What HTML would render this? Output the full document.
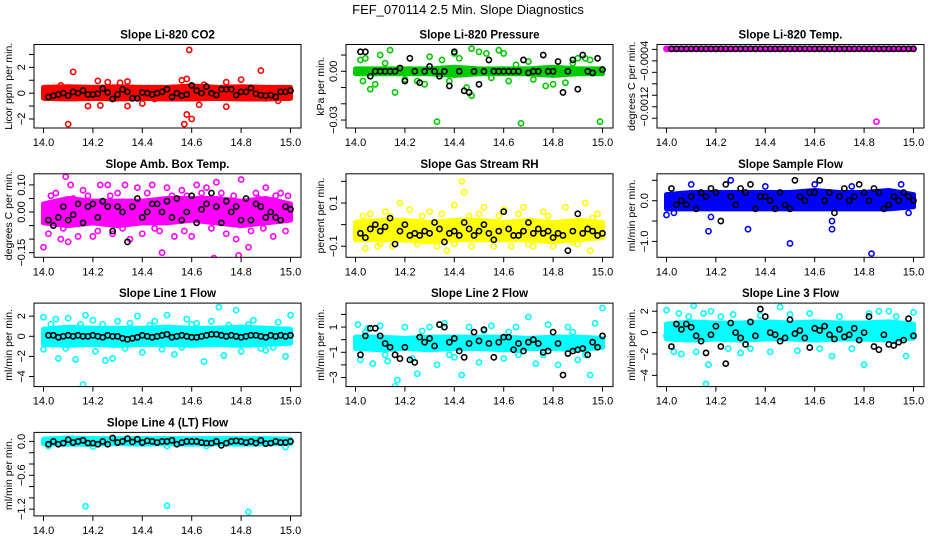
<!DOCTYPE html>
<html><head><meta charset="utf-8">
<style>
html,body{margin:0;padding:0;background:#fff;}
svg{display:block;font-family:"Liberation Sans",Arial,sans-serif;}
</style></head>
<body>
<svg id="chart" width="936" height="540" viewBox="0 0 936 540" xmlns="http://www.w3.org/2000/svg">
<text x="468" y="14" font-size="13" text-anchor="middle">FEF_070114  2.5 Min. Slope Diagnostics</text>
</svg>
<script>
// ---- data ----
const xTicks = [14.0,14.2,14.4,14.6,14.8,15.0];
const bandX = [14.0,14.1,14.2,14.3,14.4,14.5,14.6,14.7,14.8,14.9,15.0];

const co2BandHi = [0.45,0.5,0.45,0.5,0.45,0.45,0.55,0.45,0.5,0.45,0.45];
const co2BandLo = [-0.4,-0.45,-0.4,-0.45,-0.4,-0.45,-0.45,-0.4,-0.45,-0.45,-0.4];
const co2Out = [[14.1,-2.4],[14.12,1.65],[14.18,-1],[14.23,-0.95],[14.22,0.95],[14.26,0.85],[14.31,0.8],[14.34,0.9],[14.34,-1],[14.4,-0.8],[14.57,-2.4],[14.56,1],[14.58,1.1],[14.58,-1.65],[14.59,3.35],[14.6,-2.0],[14.63,-0.9],[14.74,0.85],[14.74,-1.05],[14.8,1.05],[14.88,1.75],[14.07,0.6],[14.65,0.65],[14.95,-0.6],[14.45,-0.45],[14.9,-0.4]];
const co2Black = [-0.3,-0.2,-0.1,0.0,-0.2,0.1,0.0,0.2,-0.1,-0.1,-0.05,0.35,0.05,-0.45,-0.1,0.3,0.1,-0.4,-0.4,0.05,0.0,-0.1,0.0,0.1,0.3,-0.3,0.0,-0.2,-0.1,0.6,0.2,0.0,0.5,0.0,-0.15,0.3,0.3,0.3,-0.15,0.1,0.1,0.4,-0.05,-0.15,-0.2,-0.15,-0.3,0.1,0.1,0.2];

const presBandHi = [0.0015,0.0015,0.0015,0.0015,0.0025,0.0015,0.0015,0.0015,0.0025,0.0015,0.0015];
const presBandLo = [-0.0015,-0.0015,-0.0015,-0.0015,-0.0025,-0.0015,-0.0015,-0.0015,-0.0025,-0.0015,-0.0015];
const presOut = [[14.33,-0.031],[14.67,-0.032],[14.99,-0.031],[14.47,0.014],[14.14,0.013],[14.58,0.013],[14.02,0.007],[14.03,-0.006],[14.06,-0.011],[14.16,-0.013],[14.1,0.01],[14.3,0.009],[14.4,0.011],[14.44,-0.012],[14.47,-0.015],[14.5,0.012],[14.53,0.011],[14.6,0.011],[14.7,0.006],[14.77,-0.009],[14.8,-0.008],[14.85,-0.007],[14.9,0.008],[14.93,0.008],[14.2,-0.005],[14.25,-0.006],[14.35,0.007],[14.38,-0.006],[14.62,-0.006],[14.95,0.007],[14.08,-0.008],[14.12,0.005],[14.28,-0.008],[14.42,0.008],[14.55,-0.004],[14.65,0.004],[14.72,-0.005],[14.88,0.005],[14.04,0.008],[14.45,-0.01]];
const presBlack = [0.012,0.012,-0.003,0,0,0,0,0,0.002,-0.006,0.008,0,-0.007,0,0.003,0,-0.003,0,-0.009,0.012,0,-0.012,-0.013,0,-0.008,0,0.007,0,0,0,0,0,0,0.007,-0.001,0,0,0.01,0,0,0.006,-0.013,0,0.007,-0.011,0.01,0,-0.001,0.008,0.001];

const tempBandHi = [-0.00018,-0.00018,-0.00018,-0.00018,-0.00018,-0.00018,-0.00018,-0.00018,-0.00018,-0.00018,-0.00018];
const tempBandLo = [-0.0002,-0.0002,-0.0002,-0.0002,-0.0002,-0.0002,-0.0002,-0.0002,-0.0002,-0.0002,-0.0002];
const tempOut = [[14.85,-0.00146],[14.0,-0.00019]];
const tempBlack = [-0.00019,-0.00019,-0.00019,-0.00019,-0.00019,-0.00019,-0.00019,-0.00019,-0.00019,-0.00019,-0.00019,-0.00019,-0.00019,-0.00019,-0.00019,-0.00019,-0.00019,-0.00019,-0.00019,-0.00019,-0.00019,-0.00019,-0.00019,-0.00019,-0.00019,-0.00019,-0.00019,-0.00019,-0.00019,-0.00019,-0.00019,-0.00019,-0.00019,-0.00019,-0.00019,-0.00019,-0.00019,-0.00019,-0.00019,-0.00019,-0.00019,-0.00019,-0.00019,-0.00019,-0.00019,-0.00019,-0.00019,-0.00019,-0.00019,-0.00019];

const ambBandHi = [0.03,0.05,0.04,0.04,0.04,0.05,0.05,0.05,0.04,0.05,0.03];
const ambBandLo = [-0.04,-0.05,-0.04,-0.05,-0.04,-0.04,-0.03,-0.04,-0.05,-0.04,-0.03];
const ambOut = [[14.0,-0.13],[14.02,-0.08],[14.05,0.07],[14.07,-0.1],[14.09,0.13],[14.1,-0.11],[14.11,0.1],[14.14,-0.09],[14.16,0.08],[14.2,-0.09],[14.23,0.1],[14.26,0.1],[14.28,-0.08],[14.3,0.07],[14.33,0.1],[14.35,-0.1],[14.38,0.09],[14.4,-0.08],[14.44,0.1],[14.48,-0.15],[14.5,0.09],[14.53,-0.09],[14.56,0.08],[14.6,-0.09],[14.62,0.1],[14.66,0.09],[14.69,-0.17],[14.7,0.11],[14.74,-0.08],[14.78,-0.1],[14.79,-0.16],[14.8,0.12],[14.83,-0.13],[14.86,0.07],[14.9,0.09],[14.93,-0.09],[14.96,0.07],[14.98,-0.07],[14.12,0.05],[14.45,-0.06],[14.58,0.06],[14.87,0.05],[14.03,0.06],[14.08,-0.06],[14.18,0.06],[14.22,-0.07],[14.27,0.06],[14.32,-0.06],[14.42,0.07],[14.47,-0.07],[14.52,0.06],[14.57,-0.07],[14.64,0.07],[14.68,-0.06],[14.72,0.07],[14.77,0.06],[14.84,-0.07],[14.89,-0.06],[14.94,0.06],[14.99,0.06]];
const ambBlack = [-0.03,-0.05,-0.02,0.02,-0.03,-0.01,0.03,-0.04,0.02,0.03,-0.02,0.04,0.02,-0.07,0.02,0.0,-0.11,0.02,0.05,-0.02,0.0,0.03,0.03,0.0,0.04,-0.02,0.05,-0.03,0.0,0.06,-0.04,0.01,0.03,0.07,0.02,-0.04,0.04,0.0,0.02,-0.03,0.05,-0.03,0.03,0.02,-0.02,0.0,-0.02,-0.03,0.02,0.01];

const rhBandHi = [0.01,0.02,0.02,0.01,0.02,0.02,0.01,0.02,0.01,0.02,0.01];
const rhBandLo = [-0.07,-0.07,-0.07,-0.08,-0.07,-0.07,-0.07,-0.07,-0.08,-0.07,-0.06];
const rhOut = [[14.01,0.01],[14.04,-0.11],[14.06,0.05],[14.09,-0.1],[14.12,0.06],[14.15,-0.1],[14.18,0.1],[14.22,0.07],[14.25,-0.09],[14.3,0.06],[14.33,-0.1],[14.37,-0.12],[14.4,0.09],[14.43,0.2],[14.44,0.15],[14.47,-0.1],[14.52,0.08],[14.56,-0.1],[14.6,0.07],[14.63,-0.1],[14.68,0.08],[14.72,-0.1],[14.76,0.06],[14.8,-0.1],[14.85,0.08],[14.9,-0.09],[14.93,0.1],[14.95,-0.12],[14.98,0.05],[14.2,-0.07],[14.5,0.05],[14.88,-0.08],[14.03,0.04],[14.14,0.04],[14.27,0.04],[14.35,0.05],[14.46,0.04],[14.58,0.04],[14.66,0.05],[14.78,0.04],[14.96,0.03],[14.1,-0.09],[14.4,-0.09],[14.7,-0.09]];
const rhBlack = [-0.04,-0.06,-0.02,0.0,-0.03,-0.01,0.03,-0.09,-0.03,0.0,-0.05,-0.04,-0.05,-0.03,-0.04,0.01,-0.02,-0.08,-0.04,-0.03,-0.05,0.01,-0.02,-0.05,-0.03,0.0,-0.04,-0.07,-0.03,0.06,-0.02,-0.05,-0.05,-0.03,0.01,-0.04,-0.02,-0.04,-0.03,-0.06,-0.04,-0.05,-0.12,-0.03,0.05,-0.04,-0.02,-0.03,-0.05,-0.04];

const sfBandHi = [0.15,0.2,0.2,0.2,0.2,0.2,0.25,0.2,0.2,0.25,0.15];
const sfBandLo = [-0.2,-0.2,-0.2,-0.2,-0.2,-0.2,-0.2,-0.2,-0.2,-0.2,-0.15];
const sfOut = [[14.0,-0.35],[14.03,-0.3],[14.1,0.4],[14.17,-0.75],[14.18,-0.4],[14.26,0.5],[14.33,-0.7],[14.5,-1.05],[14.67,-0.5],[14.67,-0.7],[14.83,-1.3],[14.95,0.4],[14.98,-0.3],[14.4,0.35],[14.6,0.4],[14.75,0.35]];
const sfBlack = [0.3,-0.1,0.0,-0.1,0.1,-0.2,0.2,0.1,0.3,0.2,-0.5,0.4,0.1,-0.1,0.3,0.2,0.4,-0.2,0.1,0.1,0.0,-0.2,0.2,-0.1,-0.2,0.5,0.1,0.0,0.2,0.2,0.5,0.0,0.2,-0.3,0.1,0.3,0.0,0.1,0.4,0.2,0.0,0.3,0.2,-0.2,-0.1,0.1,0.0,0.2,0.1,0.0];

const l1BandHi = [0.7,0.9,0.8,0.8,0.8,0.9,0.8,0.8,0.9,0.8,0.7];
const l1BandLo = [-0.8,-0.9,-0.8,-0.9,-0.8,-0.8,-0.9,-0.8,-0.9,-0.8,-0.7];
const l1Out = [[14.0,1.9],[14.0,-1.3],[14.05,1.7],[14.06,-2.2],[14.1,1.8],[14.13,-2.3],[14.16,-4.8],[14.17,2.1],[14.2,1.6],[14.21,-1.5],[14.25,-2.4],[14.28,-2.2],[14.3,1.5],[14.35,1.3],[14.38,2.0],[14.4,-1.6],[14.45,1.5],[14.5,2.1],[14.53,-1.8],[14.58,1.7],[14.65,-2.5],[14.68,1.5],[14.71,2.9],[14.73,-1.9],[14.78,2.6],[14.8,-1.5],[14.85,1.6],[14.9,-1.4],[14.95,1.4],[14.98,-2.0],[15.0,2.1],[14.62,1.3],[14.88,-1.2],[14.03,1.2],[14.09,-1.2],[14.15,1.2],[14.24,1.2],[14.33,-1.2],[14.43,1.1],[14.48,-1.3],[14.56,-1.1],[14.6,1.2],[14.75,1.1],[14.83,1.2],[14.93,-1.1]];
const l1Black = [0.1,0.1,-0.1,0.0,0.1,0.0,0.1,0.0,0.0,0.1,0.0,-0.1,0.1,0.0,0.0,-0.2,-0.3,-0.2,-0.1,0.1,0.0,-0.1,0.0,0.1,0.2,-0.1,0.0,0.1,0.0,-0.1,-0.1,0.0,0.1,0.2,0.2,0.1,0.0,0.1,0.0,-0.1,0.0,0.1,0.1,0.0,-0.1,0.1,0.0,0.1,0.0,0.1];

const l2BandHi = [0.2,0.2,0.1,0.2,0.2,0.2,0.2,0.1,0.2,0.2,0.1];
const l2BandLo = [-0.7,-0.8,-0.7,-0.8,-0.7,-0.7,-0.8,-0.7,-0.7,-0.8,-0.6];
const l2Out = [[14.01,1.2],[14.02,-1.6],[14.05,0.9],[14.07,-1.9],[14.1,1.1],[14.13,-1.7],[14.16,-3.7],[14.17,-3.2],[14.2,1.0],[14.23,-1.5],[14.25,-2.7],[14.3,1.0],[14.33,-2.0],[14.36,1.3],[14.4,-1.4],[14.43,-2.8],[14.46,1.0],[14.5,-1.8],[14.55,1.1],[14.6,-1.5],[14.65,1.0],[14.7,1.8],[14.73,-1.9],[14.78,1.2],[14.82,-2.0],[14.86,1.0],[14.9,-1.6],[14.95,-2.8],[14.97,1.3],[15.0,2.5],[14.66,-1.2],[14.04,0.6],[14.12,-1.2],[14.27,0.7],[14.38,-1.2],[14.52,0.7],[14.62,0.6],[14.76,-1.2],[14.88,0.6],[14.93,-1.2]];
const l2Black = [-1.2,0.3,0.9,0.9,0.3,-0.3,-0.6,-1.2,-1.5,-0.6,-1.6,-1.8,0.2,-0.2,0.1,-0.5,1.2,1.0,-0.2,0.1,-0.9,-1.4,-0.3,0.6,-0.1,0.8,-0.3,-1.4,-0.2,0.2,0.2,-0.8,-0.3,-0.9,-0.2,0.0,-0.3,-1.0,-0.9,0.6,-0.3,-2.8,-1.1,-0.9,-0.8,-0.7,-1.2,-0.2,-0.6,0.3];

const l3BandHi = [0.8,1.0,0.9,0.9,1.0,0.9,1.0,0.9,0.9,1.0,0.8];
const l3BandLo = [-0.6,-0.7,-0.6,-0.7,-0.6,-0.6,-0.7,-0.6,-0.6,-0.7,-0.5];
const l3Out = [[14.0,2.1],[14.0,-0.3],[14.03,-1.8],[14.05,1.8],[14.06,-2.0],[14.09,1.5],[14.11,2.5],[14.12,-1.8],[14.15,1.8],[14.17,-3.0],[14.16,-4.8],[14.18,2.0],[14.22,1.5],[14.25,-1.5],[14.27,1.7],[14.3,-1.9],[14.34,-1.5],[14.38,1.6],[14.42,-1.8],[14.46,2.4],[14.5,1.7],[14.53,-1.7],[14.58,1.8],[14.62,-1.5],[14.67,-2.2],[14.7,1.5],[14.75,-1.5],[14.8,-3.0],[14.82,1.8],[14.86,2.0],[14.9,2.0],[14.93,1.5],[14.97,-2.2],[15.0,1.9]];
const l3Black = [-1.3,0.8,0.3,0.8,0.5,-0.3,-0.8,-1.9,-0.2,0.6,-1.3,-2.9,0.9,0.0,-0.5,-1.1,1.0,-0.3,2.2,1.5,0.0,-0.2,-0.8,-0.5,1.2,-0.1,0.2,-0.5,-1.4,0.4,0.2,0.6,-0.2,-0.6,0.3,-0.4,-0.2,0.4,-0.7,0.0,1.5,-1.3,-1.6,-0.2,-1.1,-1.2,-0.9,-0.7,1.3,-0.3];

const l4BandHi = [0.04,0.06,0.05,0.05,0.05,0.05,0.05,0.05,0.05,0.05,0.04];
const l4BandLo = [-0.04,-0.05,-0.05,-0.04,-0.05,-0.04,-0.05,-0.04,-0.05,-0.04,-0.04];
const l4Out = [[14.17,-1.15],[14.5,-1.14],[14.83,-1.25],[14.02,-0.08],[14.2,-0.09],[14.5,-0.08],[14.66,-0.08],[14.98,-0.1]];
const l4Black = [-0.05,0.0,-0.05,-0.03,0.03,-0.02,0.0,0.02,-0.03,-0.03,-0.05,0.0,-0.05,0.06,-0.02,0.0,0.05,-0.01,0.04,-0.02,0.01,0.0,-0.02,0.0,0.0,0.02,-0.05,-0.02,0.0,0.0,0.0,-0.02,-0.03,-0.03,0.0,-0.07,-0.03,0.0,0.01,0.0,-0.02,0.0,-0.03,0.02,-0.04,-0.03,0.0,-0.02,-0.02,0.0];

// ---- panel configuration (styles/layout) ----
const panels = [
 {name:'co2',title:'Slope Li-820 CO2',ylab:'Licor ppm per min.',col:'#ff0000',r:0,c:0,lo:-2.7,hi:3.77,ticks:[-2,-1,0,1,2,3],labels:[-2,0,2],fmt:v=>String(v),bh:co2BandHi,bl:co2BandLo,out:co2Out,blk:co2Black},
 {name:'pressure',title:'Slope Li-820 Pressure',ylab:'kPa per min.',col:'#00cc00',r:0,c:1,lo:-0.0349,hi:0.0165,ticks:[-0.03,-0.02,-0.01,0,0.01],labels:[-0.03,0],fmt:v=>v.toFixed(2),bh:presBandHi,bl:presBandLo,out:presOut,blk:presBlack},
 {name:'temp',title:'Slope Li-820 Temp.',ylab:'degrees C per min.',col:'#ff00ff',r:0,c:2,lo:-0.00157,hi:-0.000115,ticks:[-0.0014,-0.0012,-0.001,-0.0008,-0.0006,-0.0004,-0.0002],labels:[-0.0012,-0.0004],fmt:v=>v.toFixed(4),bh:tempBandHi,bl:tempBandLo,out:tempOut,blk:tempBlack},
 {name:'amb-box-temp',title:'Slope Amb. Box Temp.',ylab:'degrees C per min.',col:'#ff00ff',r:1,c:0,lo:-0.167,hi:0.141,ticks:[-0.15,-0.1,-0.05,0,0.05,0.1],labels:[-0.15,0,0.1],fmt:v=>v.toFixed(2),bh:ambBandHi,bl:ambBandLo,out:ambOut,blk:ambBlack},
 {name:'gas-rh',title:'Slope Gas Stream RH',ylab:'percent per min.',col:'#ffff00',r:1,c:1,lo:-0.151,hi:0.235,ticks:[-0.1,0,0.1,0.2],labels:[-0.1,0.1],fmt:v=>v.toFixed(1),bh:rhBandHi,bl:rhBandLo,out:rhOut,blk:rhBlack},
 {name:'sample-flow',title:'Slope Sample Flow',ylab:'ml/min per min.',col:'#0000ff',r:1,c:2,lo:-1.39,hi:0.66,ticks:[-1,-0.5,0,0.5],labels:[-1,0],fmt:v=>v.toFixed(1),bh:sfBandHi,bl:sfBandLo,out:sfOut,blk:sfBlack},
 {name:'line1-flow',title:'Slope Line 1 Flow',ylab:'ml/min per min.',col:'#00ffff',r:2,c:0,lo:-5.0,hi:3.3,ticks:[-4,-2,0,2],labels:[-4,-2,0,2],fmt:v=>String(v),bh:l1BandHi,bl:l1BandLo,out:l1Out,blk:l1Black},
 {name:'line2-flow',title:'Slope Line 2 Flow',ylab:'ml/min per min.',col:'#00ffff',r:2,c:1,lo:-3.72,hi:2.9,ticks:[-3,-2,-1,0,1,2],labels:[-3,-1,1],fmt:v=>String(v),bh:l2BandHi,bl:l2BandLo,out:l2Out,blk:l2Black},
 {name:'line3-flow',title:'Slope Line 3 Flow',ylab:'ml/min per min.',col:'#00ffff',r:2,c:2,lo:-5.05,hi:2.76,ticks:[-4,-2,0,2],labels:[-4,-2,0,2],fmt:v=>String(v),bh:l3BandHi,bl:l3BandLo,out:l3Out,blk:l3Black},
 {name:'line4-flow',title:'Slope Line 4 (LT) Flow',ylab:'ml/min per min.',col:'#00ffff',r:3,c:0,lo:-1.32,hi:0.16,ticks:[-1.2,-1,-0.8,-0.6,-0.4,-0.2,0],labels:[-1.2,-0.6,0],fmt:v=>v.toFixed(1),bh:l4BandHi,bl:l4BandLo,out:l4Out,blk:l4Black}
];

const NS='http://www.w3.org/2000/svg';
const svg=document.getElementById('chart');
function mk(tag,attrs,parent){const e=document.createElementNS(NS,tag);for(const k in attrs)e.setAttribute(k,attrs[k]);(parent||svg).appendChild(e);return e;}

panels.forEach(p=>{
  const L=34+312*p.c+(p.c===2?-1:0), R=L+267, T=44.5+129.3*p.r, B=T+83.5;
  const xS=v=>L+9.5+(v-14)*247;
  const yS=v=>B-(v-p.lo)/(p.hi-p.lo)*(B-T);
  const g=mk('g',{});
  
  
  const clip=mk('clipPath',{id:'clip-'+p.name},g);
  mk('rect',{x:L,y:T,width:R-L,height:B-T},clip);
  const plot=mk('g',{'clip-path':'url(#clip-'+p.name+')'},g);
  
  
  let pts=bandX.map((x,i)=>xS(x)+','+yS(p.bh[i]));
  pts=pts.concat(bandX.slice().reverse().map((x,i)=>xS(x)+','+yS(p.bl[bandX.length-1-i])));
  const band=mk('polygon',{points:pts.join(' '),fill:p.col,stroke:p.col,'stroke-width':5,'stroke-linejoin':'round'},plot);
  
  
  p.out.forEach(d=>{
    const c=mk('circle',{cx:xS(d[0]),cy:yS(d[1]),r:2.6,fill:'none',stroke:p.col,'stroke-width':1.6},plot);
    
    
  });
  p.blk.forEach((v,i)=>{
    const x=14.02+i*(0.98/(p.blk.length-1));
    const c=mk('circle',{cx:xS(x),cy:yS(v),r:2.6,fill:'none',stroke:'#000','stroke-width':1.6},plot);
    
    
  });
  const box=mk('rect',{x:L,y:T,width:R-L,height:B-T,fill:'none',stroke:'#000','stroke-width':1},g);
  
  
  const t=mk('text',{x:(L+R)/2,y:T-6,'font-size':11.5,'font-weight':'bold','text-anchor':'middle'},g);
  t.textContent=p.title;
  
  
  xTicks.forEach(v=>{
    mk('line',{x1:xS(v),x2:xS(v),y1:B,y2:B+5,stroke:'#000'},g);
    const tx=mk('text',{x:xS(v),y:B+18,'font-size':11,'text-anchor':'middle'},g);
    tx.textContent=v.toFixed(1);
    
    
  });
  p.ticks.forEach(v=>{mk('line',{x1:L-5,x2:L,y1:yS(v),y2:yS(v),stroke:'#000'},g);});
  p.labels.forEach(v=>{
    const ty=mk('text',{x:0,y:0,'font-size':11,'text-anchor':'middle',transform:'translate('+(L-9)+','+yS(v)+') rotate(-90)'},g);
    ty.textContent=p.fmt(v).replace('-','\u2212');
    
    
  });
  const yl=mk('text',{x:0,y:0,'font-size':10.5,'text-anchor':'middle',transform:'translate('+(L-22)+','+((T+B)/2)+') rotate(-90)'},g);
  yl.textContent=p.ylab;
  
  
});
</script>
</body></html>
